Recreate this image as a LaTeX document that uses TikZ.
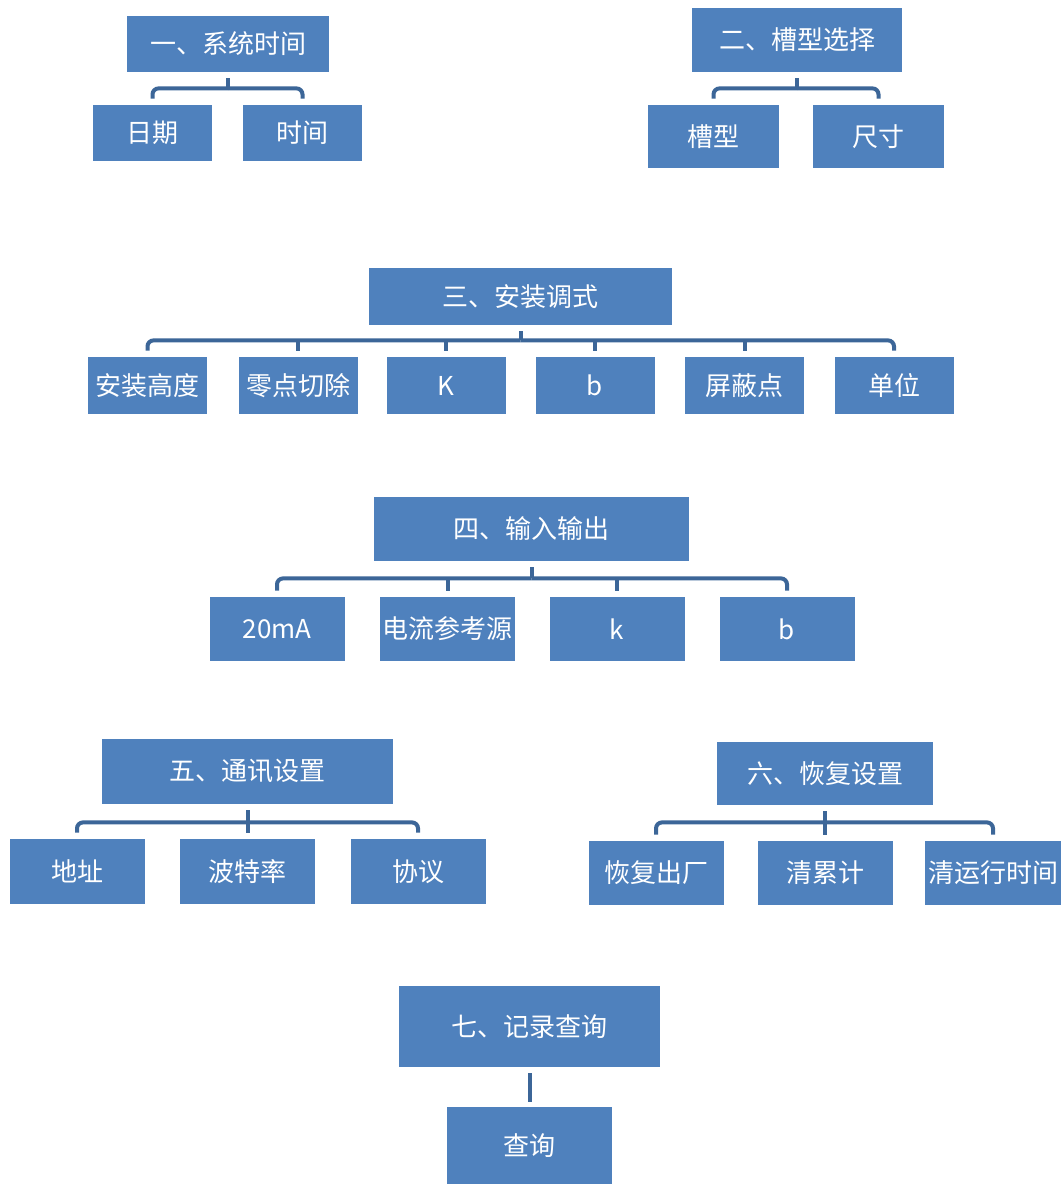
\documentclass[tikz,border=0pt]{standalone}
\usepackage{fontspec}
\setmainfont{Noto Sans CJK SC}
\usetikzlibrary{positioning}

\definecolor{boxblue}{HTML}{4F81BD}
\definecolor{linkblue}{HTML}{3C6698}

\tikzset{
  box/.style={rectangle, fill=boxblue, text=white, inner sep=0pt,
    font=\fontsize{13pt}{15pt}\selectfont},
  link/.style={draw=linkblue, line width=2pt, rounded corners=3pt},
  drop/.style={draw=linkblue, line width=2pt}
}

\begin{document}
\begin{tikzpicture}[x=0.5pt, y=-0.5pt]
\useasboundingbox (0,0) rectangle (1061,1184);

% Nodes

\node[box, minimum width=101pt, minimum height=28pt] (T1) at (228,44) {一、系统时间};
\node[box, minimum width=59.5pt, minimum height=28pt] (T1a) at (152.5,133) {日期};
\node[box, minimum width=59.5pt, minimum height=28pt] (T1b) at (302.5,133) {时间};

\node[box, minimum width=105pt, minimum height=32pt] (T2) at (797,40) {二、槽型选择};
\node[box, minimum width=65.5pt, minimum height=31.5pt] (T2a) at (713.5,136.5) {槽型};
\node[box, minimum width=65.5pt, minimum height=31.5pt] (T2b) at (878.5,136.5) {尺寸};

\node[box, minimum width=151.5pt, minimum height=28.5pt] (T3) at (520.5,296.5) {三、安装调式};
\node[box, minimum width=59.5pt, minimum height=28.5pt] (T3a) at (147.5,385.5) {安装高度};
\node[box, minimum width=59.5pt, minimum height=28.5pt] (T3b) at (298,385.5) {零点切除};
\node[box, minimum width=59.5pt, minimum height=28.5pt] (T3c) at (446,385.5) {K};
\node[box, minimum width=59.5pt, minimum height=28.5pt] (T3d) at (595,385.5) {b};
\node[box, minimum width=59.5pt, minimum height=28.5pt] (T3e) at (744.5,385.5) {屏蔽点};
\node[box, minimum width=59.5pt, minimum height=28.5pt] (T3f) at (894,385.5) {单位};

\node[box, minimum width=157.5pt, minimum height=32pt] (T4) at (531.5,529) {四、输入输出};
\node[box, minimum width=67.5pt, minimum height=32pt] (T4a) at (277,629) {20mA};
\node[box, minimum width=67.5pt, minimum height=32pt] (T4b) at (447.5,629) {电流参考源};
\node[box, minimum width=67.5pt, minimum height=32pt] (T4c) at (617,629) {k};
\node[box, minimum width=67.5pt, minimum height=32pt] (T4d) at (787,629) {b};

\node[box, minimum width=145.5pt, minimum height=32.5pt] (T5) at (247.5,771.5) {五、通讯设置};
\node[box, minimum width=67.5pt, minimum height=32.5pt] (T5a) at (77,871.5) {地址};
\node[box, minimum width=67.5pt, minimum height=32.5pt] (T5b) at (247.5,871.5) {波特率};
\node[box, minimum width=67.5pt, minimum height=32.5pt] (T5c) at (418,871.5) {协议};

\node[box, minimum width=108pt, minimum height=31.5pt] (T6) at (825,773.5) {六、恢复设置};
\node[box, minimum width=67.5pt, minimum height=32pt] (T6a) at (656,873) {恢复出厂};
\node[box, minimum width=67.5pt, minimum height=32pt] (T6b) at (825,873) {清累计};
\node[box, minimum width=68pt, minimum height=32pt] (T6c) at (993,873) {清运行时间};

\node[box, minimum width=130.5pt, minimum height=40.5pt] (T7) at (529.5,1026.5) {七、记录查询};
\node[box, minimum width=82.5pt, minimum height=38.5pt] (T7a) at (529.5,1145.5) {查询};

% Junctions
\coordinate (H1) at ([yshift=-8pt]T1.south);
\coordinate (H2) at ([yshift=-8pt]T2.south);
\coordinate (H3) at ([yshift=-7.5pt]T3.south);
\coordinate (H4) at ([yshift=-8.5pt]T4.south);
\coordinate (H5) at ([yshift=-9pt]T5.south);
\coordinate (H6) at ([yshift=-8.5pt]T6.south);

% Edges (outer children get the rounded bracket, inner ones a plain drop)
\draw[link] ([yshift=-3pt]T1.south) -- (H1);
\foreach \c in {T1a,T1b} \draw[link] (H1) -| ([yshift=3pt]\c.north);

\draw[link] ([yshift=-3pt]T2.south) -- (H2);
\foreach \c in {T2a,T2b} \draw[link] (H2) -| ([yshift=3pt]\c.north);

\draw[link] ([yshift=-3pt]T3.south) -- (H3);
\foreach \c in {T3a,T3f} \draw[link] (H3) -| ([yshift=3pt]\c.north);
\foreach \c in {T3b,T3c,T3d,T3e} \draw[drop] (\c.north |- H3) -- ([yshift=3pt]\c.north);

\draw[link] ([yshift=-3pt]T4.south) -- (H4);
\foreach \c in {T4a,T4d} \draw[link] (H4) -| ([yshift=3pt]\c.north);
\foreach \c in {T4b,T4c} \draw[drop] (\c.north |- H4) -- ([yshift=3pt]\c.north);

\draw[link] ([yshift=-3pt]T5.south) -- (H5);
\foreach \c in {T5a,T5c} \draw[link] (H5) -| ([yshift=3pt]\c.north);
\draw[drop] (H5) -- ([yshift=3pt]T5b.north);

\draw[link] ([yshift=-3pt]T6.south) -- (H6);
\foreach \c in {T6a,T6c} \draw[link] (H6) -| ([yshift=3pt]\c.north);
\draw[drop] (H6) -- ([yshift=3pt]T6b.north);

\draw[link] ([yshift=-3pt]T7.south) -- ([yshift=2.5pt]T7a.north);

\end{tikzpicture}
\end{document}
